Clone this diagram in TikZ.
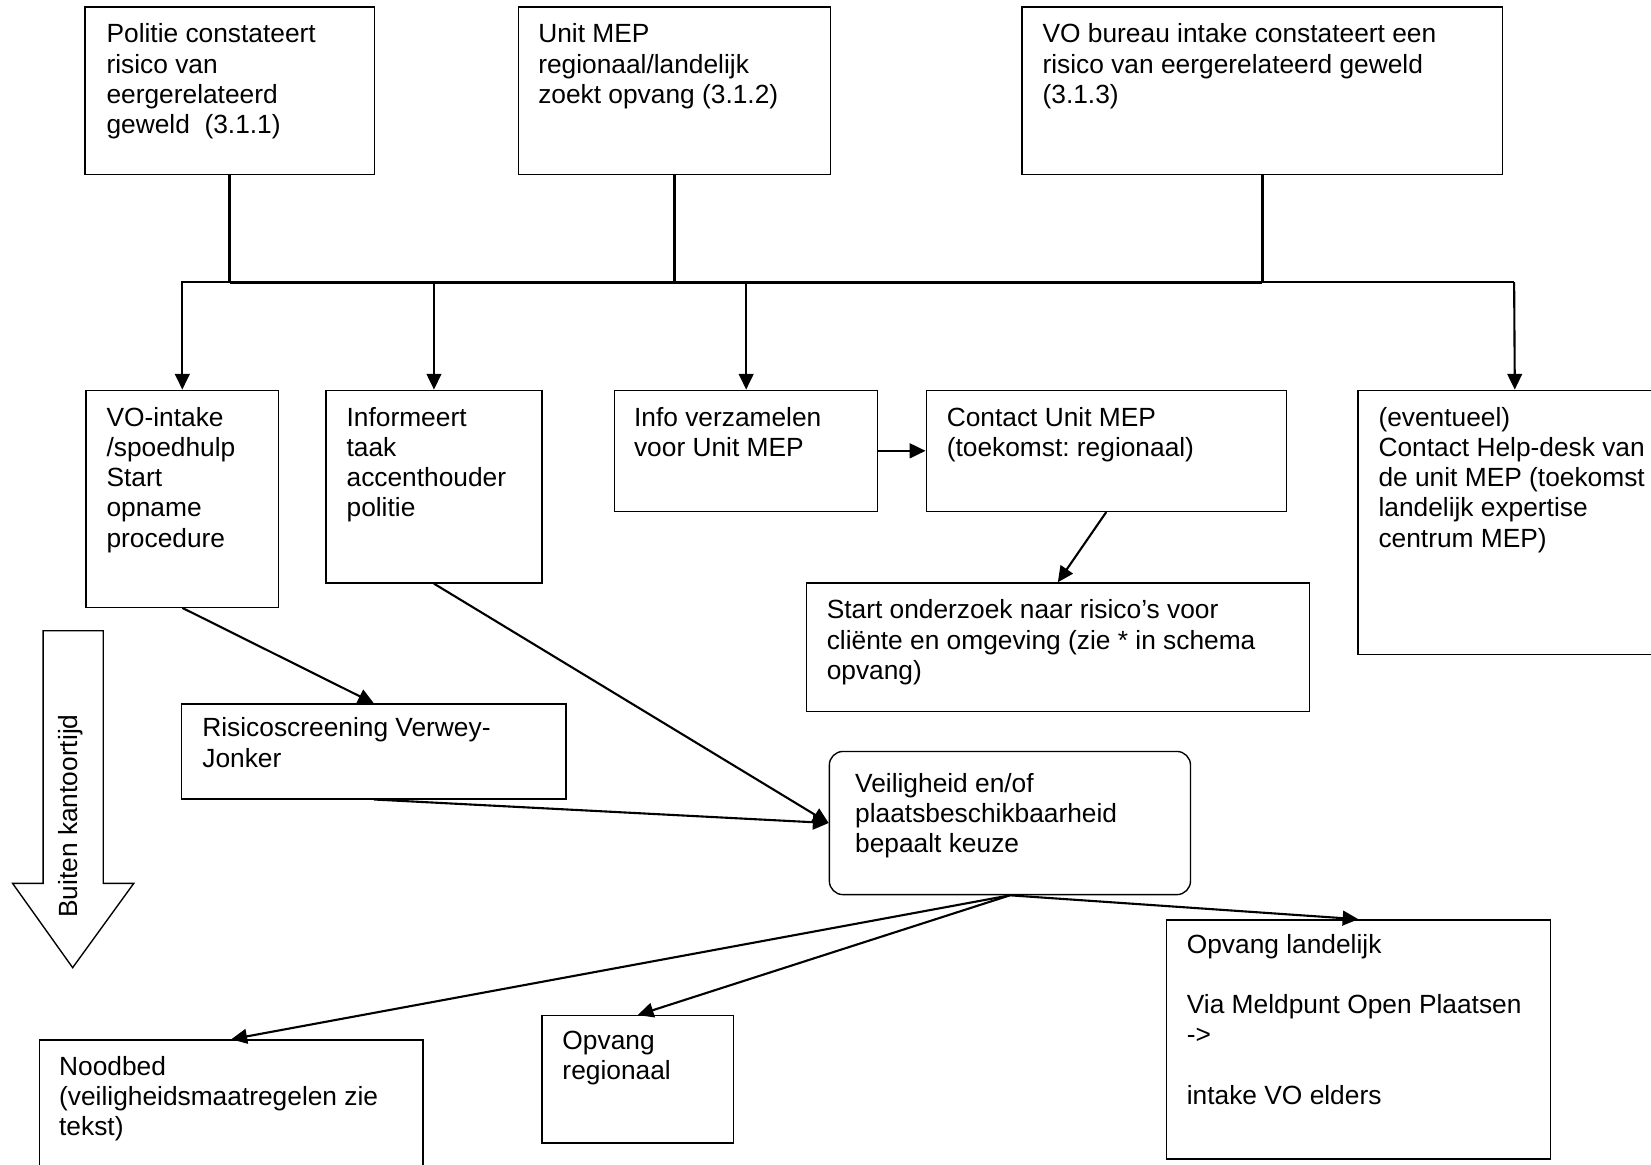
\documentclass[tikz,border=0pt]{standalone}
\usepackage{fontspec}
\setmainfont{Liberation Sans}
\usetikzlibrary{arrows.meta,calc}
\frenchspacing
\begin{document}
\begin{tikzpicture}[x=1pt,y=-1pt,
  box/.style={draw,line width=1.3pt,inner sep=0pt,anchor=north west},
  txt/.style={inner sep=0pt,anchor=north west,align=left,font=\fontsize{25}{28.7}\selectfont\frenchspacing},
  arr/.style={line width=2pt,-{Triangle[length=15pt,width=14pt]}},
  bus/.style={line width=2.9pt},
  branch/.style={line width=2pt}]
\path[use as bounding box,clip] (0,0) rectangle (1568,1106);

% top boxes
\node[box,minimum width=275pt,minimum height=159pt] (politie) at (80,6) {};
\node[txt] (politie-t) at ($(politie.north west)+(21,14.5)$) {\strut Politie constateert\\risico van\\eergerelateerd\\geweld\ \ (3.1.1)};
\node[box,minimum width=296pt,minimum height=159pt] (unitmep) at (492,6) {};
\node[txt] (unitmep-t) at ($(unitmep.north west)+(19,14.5)$) {\strut Unit MEP\\regionaal/landelijk\\zoekt opvang (3.1.2)};
\node[box,minimum width=456pt,minimum height=159pt] (vobureau) at (970,6) {};
\node[txt] (vobureau-t) at ($(vobureau.north west)+(20,14.5)$) {\strut VO bureau intake constateert een\\risico van eergerelateerd geweld\\(3.1.3)};

% middle row
\node[box,minimum width=183pt,minimum height=206pt] (vointake) at (81,370) {};
\node[txt] (vointake-t) at ($(vointake.north west)+(20,14.5)$) {\strut VO-intake\\/spoedhulp\\Start\\opname\\procedure};
\node[box,minimum width=205pt,minimum height=183pt] (informeert) at (309,370) {};
\node[txt] (informeert-t) at ($(informeert.north west)+(20,14.5)$) {\strut Informeert\\taak\\accenthouder\\politie};
\node[box,minimum width=250pt,minimum height=115pt] (infoverz) at (583,370) {};
\node[txt] (infoverz-t) at ($(infoverz.north west)+(19,14.5)$) {\strut Info verzamelen\\voor Unit MEP};
\node[box,minimum width=342pt,minimum height=115pt] (contact) at (879,370) {};
\node[txt] (contact-t) at ($(contact.north west)+(20,14.5)$) {\strut Contact Unit MEP\\(toekomst: regionaal)};
\node[box,minimum width=298pt,minimum height=251pt] (eventueel) at (1289,370) {};
\node[txt] (eventueel-t) at ($(eventueel.north west)+(20,14.5)$) {\strut (eventueel)\\Contact Help-desk van\\de unit MEP (toekomst\\landelijk expertise\\centrum MEP)};

\node[box,minimum width=478pt,minimum height=122pt] (onderzoek) at (765,553) {};
\node[txt] (onderzoek-t) at ($(onderzoek.north west)+(20,14.5)$) {\strut Start onderzoek naar risico’s voor\\cliënte en omgeving (zie * in schema\\opvang)};

\node[box,minimum width=365pt,minimum height=90pt] (risico) at (172,668) {};
\node[txt] (risico-t) at ($(risico.north west)+(20,11.5)$) {\strut Risicoscreening Verwey-\\Jonker};

\node[box,rounded corners=13pt,minimum width=343pt,minimum height=136pt] (veilig) at (787,713) {};
\node[txt] (veilig-t) at ($(veilig.north west)+(25,19)$) {\strut Veiligheid en/of\\plaatsbeschikbaarheid\\bepaalt keuze};

% bottom boxes
\node[box,minimum width=364pt,minimum height=160pt] (noodbed) at (37,987) {};
\node[txt] (noodbed-t) at ($(noodbed.north west)+(19,14)$) {\strut Noodbed\\(veiligheidsmaatregelen zie\\tekst)};
\node[box,minimum width=182pt,minimum height=121pt] (opregio) at (514,964) {};
\node[txt] (opregio-t) at ($(opregio.north west)+(20,12)$) {\strut Opvang\\regionaal};
\node[box,minimum width=365pt,minimum height=227pt] (oplande) at (1107,873) {};
\node[txt] (oplande-t) at ($(oplande.north west)+(20,12)$) {\strut Opvang landelijk\\\strut\\Via Meldpunt Open Plaatsen\\->\\\strut\\intake VO elders};

% block arrow
\draw[line width=1.3pt] (41,599) -- (98,599) -- (98,839) -- (127,839) -- (69,919) -- (12,839) -- (41,839) -- cycle;
\node[rotate=90,inner sep=0pt,font=\fontsize{25}{28.7}\selectfont] (buiten) at (67,775) {Buiten kantoortijd};

% bus
\coordinate (busL) at (172,268);
\coordinate (busR) at (1438,268);
\draw[bus] (politie.south) -- (politie.south |- busL);
\draw[bus] (unitmep.south) -- (unitmep.south |- busL);
\draw[bus] (vobureau.south) -- (vobureau.south |- busL);
\draw[bus] (politie.south |- busL) -- (vobureau.south |- busL);
\draw[branch] (busL) -- (busR);
\draw[arr] (vointake.north |- busL) -- (vointake.north);
\draw[arr] (informeert.north |- busL) -- (informeert.north);
\draw[arr] (infoverz.north |- busL) -- (infoverz.north);
\draw[arr] (busR) -- (eventueel.north);

% connectors
\draw[arr] (infoverz.east) -- (contact.west);
\draw[arr] (contact.south) -- (onderzoek.north);
\draw[arr] (vointake.south) -- (risico.north);
\draw[arr] (informeert.south) -- (veilig.west);
\draw[arr] (risico.south) -- (veilig.west);
\draw[arr] (veilig.south) -- (noodbed.north);
\draw[arr] (veilig.south) -- (opregio.north);
\draw[arr] (veilig.south) -- (oplande.north);
\end{tikzpicture}
\end{document}
